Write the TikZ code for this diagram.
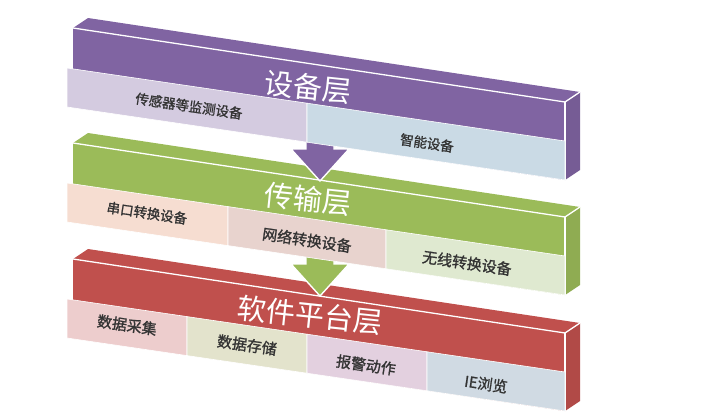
\documentclass[tikz,border=0pt]{standalone}
\usepackage{fontspec}
\newfontfamily\cjk{Noto Sans CJK SC}
\newfontfamily\cjkb[FakeBold=1.2]{Noto Sans CJK SC}
\definecolor{purp}{HTML}{8064A2}
\definecolor{grn}{HTML}{9BBB59}
\definecolor{rd}{HTML}{C0504D}
\definecolor{cA}{HTML}{D4CBE0}
\definecolor{cB}{HTML}{CADAE5}
\definecolor{cC}{HTML}{F6DDD1}
\definecolor{cD}{HTML}{E8D3CE}
\definecolor{cE}{HTML}{DFE9D0}
\definecolor{cF}{HTML}{EDCDCD}
\definecolor{cG}{HTML}{E3E3CC}
\definecolor{cH}{HTML}{E3D0DF}
\definecolor{cI}{HTML}{D0DAE3}
\definecolor{txt}{HTML}{333333}
\newcommand{\mybar}[2]{%
  \begin{scope}[shift={(0,#1)}]
    \fill[#2] (73,28) -- (565,102) -- (580,92) -- (88,18) -- cycle;
    \fill[#2!92!black] (565,102) -- (580,92) -- (580,170) -- (565,180) -- cycle;
    \fill[#2] (73,28) -- (565,102) -- (565,180) -- (73,107) -- cycle;
    \draw[white,line width=1.3pt,line join=round] (73,28) -- (565,102) -- (580,92);
    \draw[white,line width=1.3pt] (565,102) -- (565,180);
  \end{scope}}
\newcommand{\mycell}[4]{% dy, x1, x2, color
  \fill[#4,draw=white,line width=0.6pt] ({#2},{68+0.1466*(#2-67)+#1}) -- ({#3},{68+0.1466*(#3-67)+#1})
     -- ({#3},{107+0.1466*(#3-67)+#1}) -- ({#2},{107+0.1466*(#2-67)+#1}) -- cycle;}
\newcommand{\myarrow}[3]{% tip y, base y, color
  \fill[#3,draw=white,line width=1.4pt,line join=miter]
    (306,{#2-40}) -- (334,{#2-40}) -- (334,#2) -- (349,#2) -- (320,#1) -- (291,#2) -- (306,#2) -- cycle;}
\tikzset{
  ttl/.style={text=white,font=\cjk\fontsize{29}{29}\selectfont,rotate=-6,inner sep=0pt},
  lbl/.style={text=txt,font=\cjkb\fontsize{13.5}{13.5}\selectfont,rotate=-8.3,inner sep=0pt},
  lblb/.style={text=txt,font=\cjkb\fontsize{15}{15}\selectfont,rotate=-8.3,inner sep=0pt}
}
\begin{document}
\begin{tikzpicture}[x=1pt,y=-1pt]
\useasboundingbox (0,0) rectangle (704,418);
% red layer
\mybar{231}{rd}
\mycell{231}{67}{187}{cF}
\mycell{231}{187}{307}{cG}
\mycell{231}{307}{427}{cH}
\mycell{231}{427}{565}{cI}
\node[ttl] (t3) at (310,315) {软件平台层};
\node[lblb] (l31) at (127,325) {数据采集};
\node[lblb] (l32) at (247,345) {数据存储};
\node[lblb] (l33) at (366,365) {报警动作};
\node[lblb] (l34) at (486,384) {IE浏览};
% arrow green
\myarrow{296}{264}{grn}
% green layer
\mybar{115}{grn}
\mycell{115}{67}{228}{cC}
\mycell{115}{228}{386}{cD}
\mycell{115}{386}{565}{cE}
\node[ttl] (t2) at (308,199) {传输层};
\node[lbl] (l21) at (147,213) {串口转换设备};
\node[lblb] (l22) at (307,240) {网络转换设备};
\node[lblb] (l23) at (467,263) {无线转换设备};
% arrow purple
\myarrow{181}{149}{purp}
% purple layer
\mybar{0}{purp}
\mycell{0}{67}{307}{cA}
\mycell{0}{307}{565}{cB}
\node[ttl] (t1) at (308,87) {设备层};
\node[lbl] (l11) at (189,106) {传感器等监测设备};
\node[lbl] (l12) at (427,143) {智能设备};
\end{tikzpicture}
\end{document}
